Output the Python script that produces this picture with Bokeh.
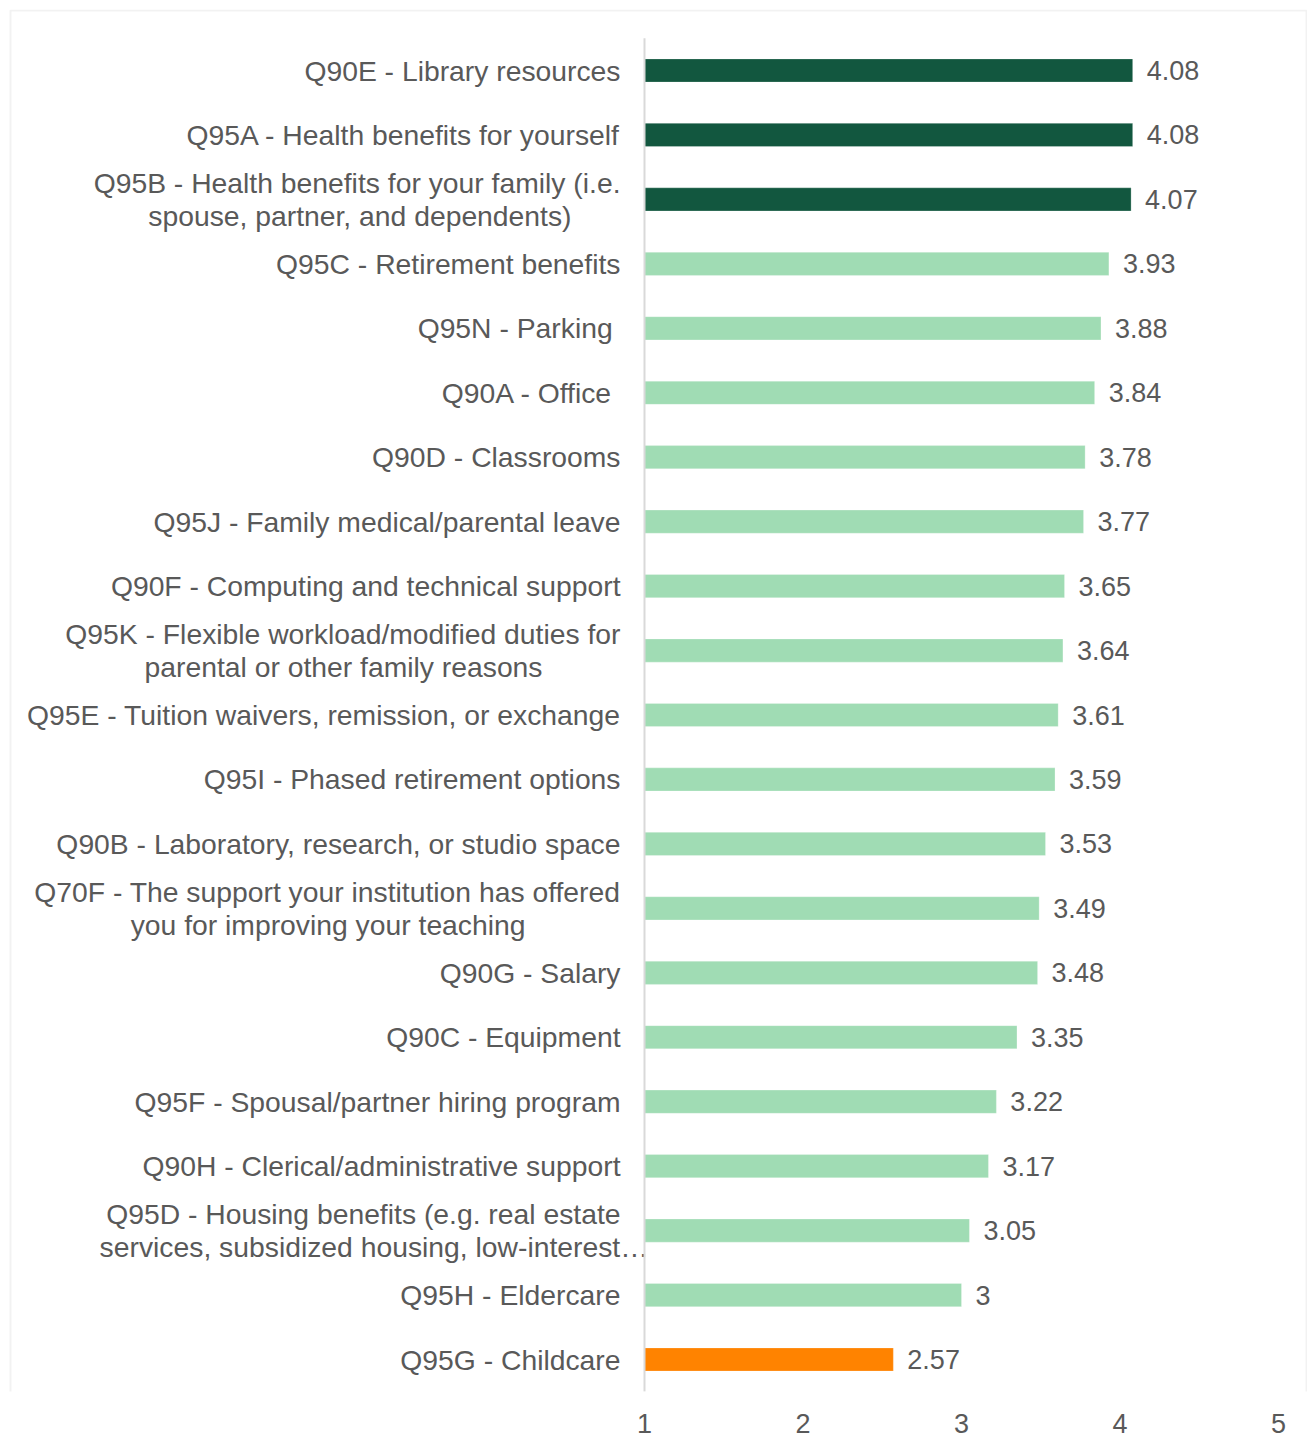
from bokeh.plotting import figure
from bokeh.models import ColumnDataSource, FixedTicker, BoxAnnotation, Range1d
from bokeh.core.properties import value
from bokeh.embed import file_html
from bokeh.resources import INLINE

# ---------------- data ----------------
categories = [
    "Q90E - Library resources",
    "Q95A - Health benefits for yourself",
    "Q95B - Health benefits for your family (i.e.\nspouse, partner, and dependents)",
    "Q95C - Retirement benefits",
    "Q95N - Parking ",
    "Q90A - Office ",
    "Q90D - Classrooms",
    "Q95J - Family medical/parental leave",
    "Q90F - Computing and technical support",
    "Q95K - Flexible workload/modified duties for\nparental or other family reasons",
    "Q95E - Tuition waivers, remission, or exchange",
    "Q95I - Phased retirement options",
    "Q90B - Laboratory, research, or studio space",
    "Q70F - The support your institution has offered\nyou for improving your teaching",
    "Q90G - Salary",
    "Q90C - Equipment",
    "Q95F - Spousal/partner hiring program",
    "Q90H - Clerical/administrative support",
    "Q95D - Housing benefits (e.g. real estate\nservices, subsidized housing, low-interest\u2026",
    "Q95H - Eldercare",
    "Q95G - Childcare",
]
scores = [4.08, 4.08, 4.07, 3.93, 3.88, 3.84, 3.78, 3.77, 3.65, 3.64, 3.61,
          3.59, 3.53, 3.49, 3.48, 3.35, 3.22, 3.17, 3.05, 3.00, 2.57]
groups = ["top", "top", "top"] + ["mid"] * 17 + ["low"]
x_ticks = [1, 2, 3, 4, 5]

# ---------------- styles / layout ----------------
GROUP_COLORS = {"top": "#12573f", "mid": "#a0dcb4", "low": "#ff8300"}
TEXT_COLOR = "#595959"
FONT = value("Liberation Sans")
LABEL_GAP = -24          # px left of the axis line
LINE_HALF = 16.5         # px half spacing of two-line labels
SECOND_LINE_SHIFT = {2: 49, 9: 78, 13: 95, 18: -28}

W, H = 1307, 1442
PX_PER_UNIT = 158.5
AXIS_PX = 644            # pixel of x = 1
ROW_PX = 64.45           # pixel distance between rows
FIRST_ROW_PX = 70        # pixel centre of first row
FRAME_TOP, FRAME_BOTTOM = 9, 1391

x_start = 1 - AXIS_PX / PX_PER_UNIT
x_end = 5 + (W - (AXIS_PX + 4 * PX_PER_UNIT)) / PX_PER_UNIT
y_top = (FRAME_TOP - FIRST_ROW_PX) / ROW_PX
y_bottom = (FRAME_BOTTOM - FIRST_ROW_PX) / ROW_PX

p = figure(width=W, height=H, output_backend="svg", toolbar_location=None,
           x_range=Range1d(x_start, x_end),
           y_range=Range1d(y_bottom, y_top),
           y_axis_location=None,
           min_border_left=0, min_border_right=0,
           min_border_top=FRAME_TOP, min_border_bottom=H - FRAME_BOTTOM)
p.background_fill_color = "white"
p.border_fill_color = "white"
p.outline_line_color = None
p.grid.visible = False

n = len(categories)
rows = list(range(n))

bar_src = ColumnDataSource(dict(
    row=rows, score=scores,
    color=[GROUP_COLORS[g] for g in groups],
    lbl=[f"{v:g}" for v in scores],
))
p.hbar(y="row", left=1, right="score", height=0.36, color="color",
       line_color="white", line_alpha=0.5, line_width=0.5, source=bar_src)

p.text(x="score", y="row", text="lbl", source=bar_src,
       x_offset=14, text_align="left", text_baseline="middle",
       text_font=FONT, text_font_size="27px", text_color=TEXT_COLOR)

# category labels (drawn line by line)
lx, ly, lt, lxo, lyo = [], [], [], [], []
for i, c in enumerate(categories):
    parts = c.split("\n")
    if len(parts) == 1:
        lx.append(1); ly.append(i); lt.append(c); lxo.append(LABEL_GAP); lyo.append(0)
    else:
        lx.append(1); ly.append(i); lt.append(parts[0]); lxo.append(LABEL_GAP); lyo.append(-LINE_HALF)
        lx.append(1); ly.append(i); lt.append(parts[1])
        lxo.append(LABEL_GAP - SECOND_LINE_SHIFT.get(i, 0)); lyo.append(LINE_HALF)
lab_src = ColumnDataSource(dict(x=lx, y=ly, t=lt, xo=lxo, yo=lyo))
p.text(x="x", y="y", text="t", x_offset="xo", y_offset="yo", source=lab_src,
       text_align="right", text_baseline="middle",
       text_font=FONT, text_font_size="28.3px", text_color=TEXT_COLOR)

# vertical axis line at x = 1
p.segment(x0=[1], x1=[1], y0=[-0.5], y1=[n - 0.5], line_color="#d9d9d9", line_width=2)

ax = p.xaxis[0]
ax.ticker = FixedTicker(ticks=x_ticks)
ax.axis_line_color = None
ax.major_tick_line_color = None
ax.minor_tick_line_color = None
ax.major_label_text_font = "Liberation Sans"
ax.major_label_text_font_size = "27px"
ax.major_label_text_color = TEXT_COLOR
ax.major_label_standoff = 16

# chart-area border
p.add_layout(BoxAnnotation(left=10, right=W - 1, top=FRAME_TOP + 1, bottom=H + 5,
                           left_units="canvas", right_units="canvas",
                           top_units="canvas", bottom_units="canvas",
                           fill_color=None, line_color="#d4d4d4", line_width=2))

open("out.html", "w").write(file_html(p, INLINE))
